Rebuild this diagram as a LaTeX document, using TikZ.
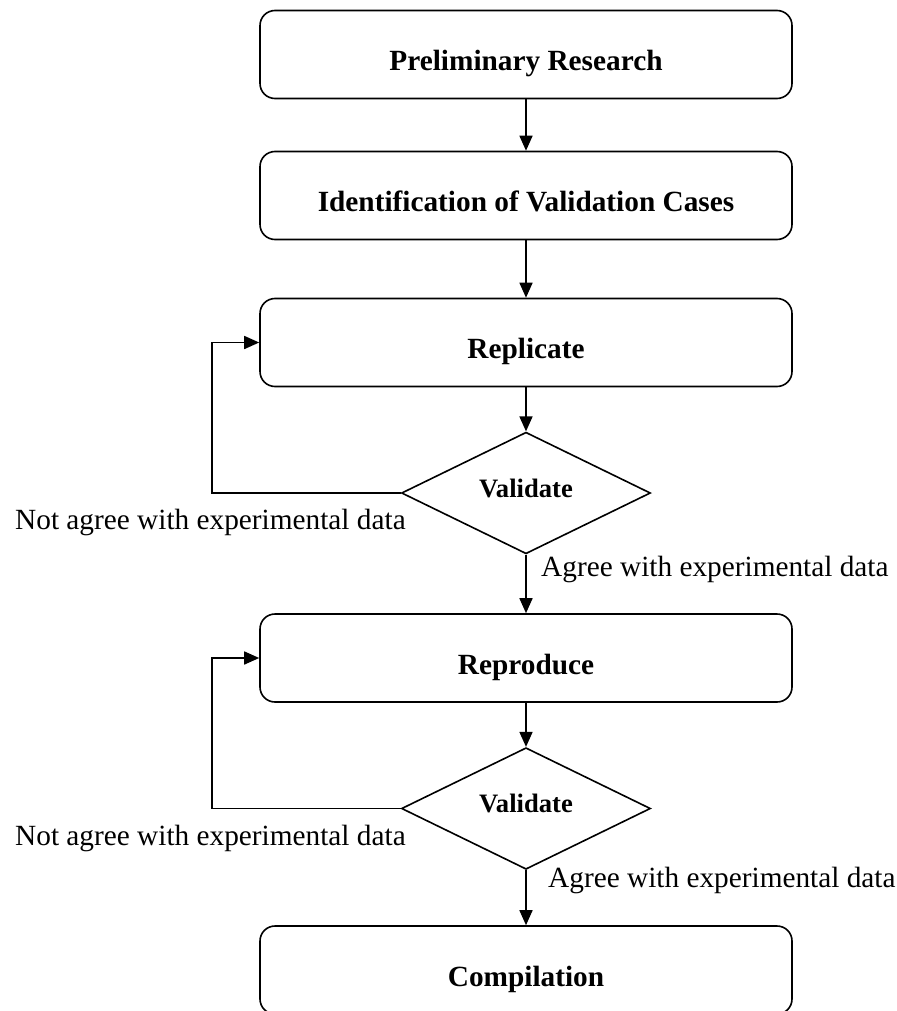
\documentclass[tikz,border=0pt]{standalone}
\usepackage{fontspec}
\setmainfont{Liberation Serif}
\usetikzlibrary{shapes.geometric,arrows.meta}
\tikzset{
  stepbox/.style={draw, line width=1.6pt, rounded corners=15pt, rectangle,
    minimum width=532pt, minimum height=88pt, inner sep=0pt,
    text height=34pt, text depth=2pt,
    font=\fontsize{29.3}{35}\selectfont\bfseries},
  decision/.style={draw, line width=1.6pt, diamond, minimum width=249pt,
    minimum height=115pt, inner sep=0pt, text height=18pt, text depth=10pt,
    font=\fontsize{26.6}{32}\selectfont\bfseries},
  flow/.style={line width=1.6pt, -{Triangle[length=15pt,width=13pt]}},
  note/.style={inner sep=0pt, anchor=base west, font=\fontsize{29.3}{35}\selectfont}
}
\begin{document}
\begin{tikzpicture}[x=1pt,y=-1pt]
\useasboundingbox (0,0) rectangle (896,1011);
\clip (0,0) rectangle (896,1011);
\node[stepbox] (b1) at (526,54.5) {Preliminary Research};
\node[stepbox] (b2) at (526,195.5) {Identification of Validation Cases};
\node[stepbox] (b3) at (526,342.5) {Replicate};
\node[decision] (d1) at (526,493) {Validate};
\node[stepbox] (b4) at (526,658) {Reproduce};
\node[decision] (d2) at (526,808.5) {Validate};
\node[stepbox] (b5) at (526,970) {Compilation};

\coordinate (l1) at (212,493);
\coordinate (l2) at (212,808.5);

\draw[flow] (b1) -- (b2);
\draw[flow] (b2) -- (b3);
\draw[flow] (b3) -- (d1);
\draw[flow] (d1) -- (b4);
\draw[flow] (b4) -- (d2);
\draw[flow] (d2) -- (b5);
\draw[flow] (d1.west) -- (l1) |- (b3.west);
\draw[flow] (d2.west) -- (l2) |- (b4.west);

\node[note] (n1) at (15,529) {Not agree with experimental data};
\node[note] (a1) at (541,576) {Agree with experimental data};
\node[note] (n2) at (15,845) {Not agree with experimental data};
\node[note] (a2) at (548,887) {Agree with experimental data};
\end{tikzpicture}
\end{document}
